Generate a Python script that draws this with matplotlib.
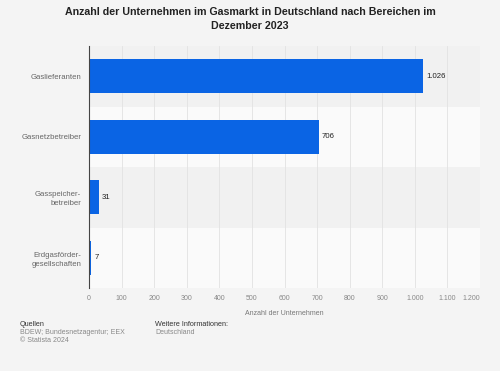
import matplotlib

matplotlib.use("Agg")
import matplotlib.pyplot as plt
from matplotlib.patches import Rectangle

plt.rcParams["font.family"] = ["Liberation Sans", "DejaVu Sans"]

categories = ["Gaslieferanten", "Gasnetzbetreiber", "Gasspeicher-\nbetreiber", "Erdgasförder-\ngesellschaften"]
values = [1026, 706, 31, 7]
value_labels = ["1.026", "706", "31", "7"]
tick_values = [0, 100, 200, 300, 400, 500, 600, 700, 800, 900, 1000, 1100, 1200]
tick_labels = ["0", "100", "200", "300", "400", "500", "600", "700", "800", "900", "1.000", "1.100", "1.200"]

bg = "#f4f4f4"
bar_color = "#0a64e4"

fig = plt.figure(figsize=(5.0, 3.71), dpi=100, facecolor=bg)
ax = fig.add_axes([0.178, 0.2237, 0.782, 0.6523])
ax.set_facecolor(bg)

n = len(categories)
ypos = list(range(n))
# alternating row bands
for i in ypos:
    shade = "#f1f1f1" if i % 2 == 0 else "#fafafa"
    ax.add_patch(Rectangle((0, i - 0.5), 1200, 1, facecolor=shade, edgecolor="none", zorder=0))

ax.barh(ypos, values, height=0.56, color=bar_color, zorder=3)
for y, v, lab in zip(ypos, values, value_labels):
    ax.text(v + 9, y, lab, va="center", ha="left", fontsize=5.6, color="#222222", zorder=4)

ax.set_xlim(0, 1200)
ax.set_ylim(n - 0.5, -0.5)
ax.set_yticks(ypos)
ax.set_yticklabels(categories, fontsize=5.6, color="#666666", ha="right", linespacing=1.35)
ax.set_xticks(tick_values)
ax.set_xticklabels(tick_labels, fontsize=5, color="#888888")
ax.get_xticklabels()[-1].set_ha("right")
ax.tick_params(axis="both", length=0)
ax.tick_params(axis="y", pad=5.5)
ax.tick_params(axis="x", pad=5)
ax.grid(axis="x", color="#e2e2e2", linewidth=0.6, zorder=1)
ax.set_axisbelow(True)
for side in ["top", "right", "bottom"]:
    ax.spines[side].set_visible(False)
ax.spines["left"].set_color("#444444")
ax.spines["left"].set_linewidth(0.8)
ax.spines["left"].set_zorder(5)

ax.set_xlabel("Anzahl der Unternehmen", fontsize=5, color="#777777", labelpad=6)

fig.text(0.5, 0.982, "Anzahl der Unternehmen im Gasmarkt in Deutschland nach Bereichen im\nDezember 2023",
         ha="center", va="top", fontsize=7.7, fontweight="bold", color="#222222", linespacing=1.55)

fig.text(0.04, 0.126, "Quellen", fontsize=5.2, color="#333333", va="center")
fig.text(0.04, 0.104, "BDEW; Bundesnetzagentur; EEX", fontsize=5, color="#888888", va="center")
fig.text(0.04, 0.082, "© Statista 2024", fontsize=5, color="#888888", va="center")
fig.text(0.31, 0.126, "Weitere Informationen:", fontsize=5.2, color="#333333", va="center")
fig.text(0.31, 0.104, "Deutschland", fontsize=5, color="#888888", va="center")

fig.savefig("out.png", dpi=100, facecolor=bg)
